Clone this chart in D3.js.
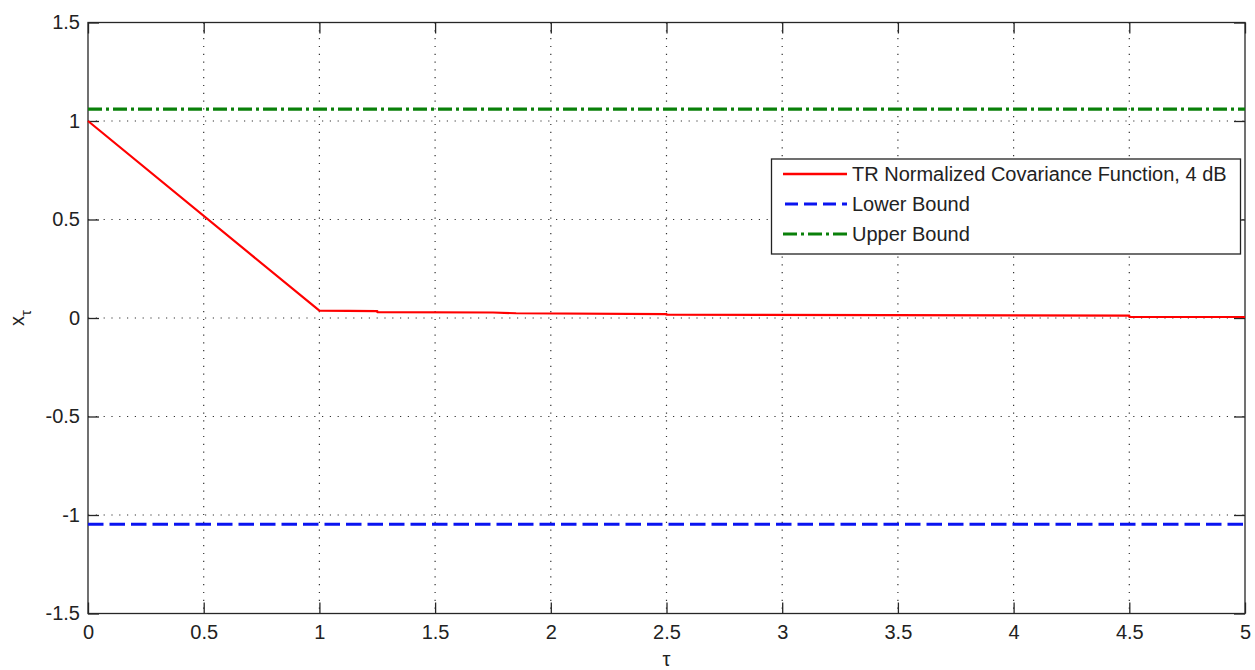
<!DOCTYPE html>
<html><head><meta charset="utf-8">
<script src="https://cdn.jsdelivr.net/npm/d3@7"></script>
<style>
body{margin:0;background:#fff;}
svg{display:block;font-family:"Liberation Sans",Arial,sans-serif;}
</style></head>
<body>
<svg id="chart" width="1255" height="670"></svg>
<script>
// Data
const covTau = [0, 1, 1.25, 1.25, 1.75, 1.85, 2.5, 2.5, 4.5, 4.5, 5];
const covVal = [1, 0.037, 0.035, 0.03, 0.028, 0.024, 0.02, 0.017, 0.012, 0.005, 0.005];
const lowerBound = -1.047;
const upperBound = 1.06;
const xTicks = [0, 0.5, 1, 1.5, 2, 2.5, 3, 3.5, 4, 4.5, 5];
const yTicks = [-1.5, -1, -0.5, 0, 0.5, 1, 1.5];
const legendLabels = ["TR Normalized Covariance Function, 4 dB", "Lower Bound", "Upper Bound"];

const svg = d3.select("#chart");
const L = 88, R = 1245, T = 22.5, B = 613.5;
const x = d3.scaleLinear().domain([0, 5]).range([L, R]);
const y = d3.scaleLinear().domain([-1.5, 1.5]).range([B, T]);
const axisColor = "#262626";
const fmt = d => String(d);

// grid
const grid = svg.append("g");
xTicks.slice(1, -1).forEach(t => {
  grid.append("line").attr("x1", x(t)).attr("x2", x(t)).attr("y1", T).attr("y2", B)
    .attr("stroke", "#333").attr("stroke-width", 1.2).attr("stroke-dasharray", "1.2,6.6");
});
yTicks.slice(1, -1).forEach(t => {
  grid.append("line").attr("x1", L).attr("x2", R).attr("y1", y(t)).attr("y2", y(t))
    .attr("stroke", "#333").attr("stroke-width", 1.2).attr("stroke-dasharray", "1.2,6.6");
});

// axes with inward ticks
const tickLen = 11;
const xAxis = d3.axisBottom(x).tickValues(xTicks).tickSize(-tickLen).tickPadding(11).tickFormat(fmt);
const yAxis = d3.axisLeft(y).tickValues(yTicks).tickSize(-tickLen).tickPadding(8).tickFormat(fmt);
const xTop = d3.axisTop(x).tickValues(xTicks).tickSize(-tickLen).tickFormat("");
const yRight = d3.axisRight(y).tickValues(yTicks).tickSize(-tickLen).tickFormat("");

function style(g) {
  g.selectAll("line").attr("stroke", axisColor).attr("stroke-width", 1.3);
  g.selectAll("text").attr("fill", "#222").style("font-size", "20px").style("font-family", "Liberation Sans, Arial, sans-serif");
}
svg.append("g").attr("transform", `translate(0,${B})`).call(xAxis).call(g => g.select(".domain").remove()).call(style);
svg.append("g").attr("transform", `translate(${L},0)`).call(yAxis).call(g => g.select(".domain").remove()).call(style);
svg.append("g").attr("transform", `translate(0,${T})`).call(xTop).call(g => g.select(".domain").remove()).call(style);
svg.append("g").attr("transform", `translate(${R},0)`).call(yRight).call(g => g.select(".domain").remove()).call(style);
svg.append("rect").attr("x", L).attr("y", T).attr("width", R - L).attr("height", B - T)
  .attr("fill", "none").attr("stroke", axisColor).attr("stroke-width", 1.3);

// series
const line = d3.line().x(d => x(d[0])).y(d => y(d[1]));
const covData = covTau.map((t, i) => [t, covVal[i]]);
svg.append("path").datum([[0, upperBound], [5, upperBound]]).attr("d", line)
  .attr("fill", "none").attr("stroke", "#0a800a").attr("stroke-width", 3.2).attr("stroke-dasharray", "14,4,3,4");
svg.append("path").datum([[0, lowerBound], [5, lowerBound]]).attr("d", line)
  .attr("fill", "none").attr("stroke", "#0a14f0").attr("stroke-width", 3.2).attr("stroke-dasharray", "15.5,6");
svg.append("path").datum(covData).attr("d", line)
  .attr("fill", "none").attr("stroke", "#ff0000").attr("stroke-width", 2.2).attr("stroke-linejoin", "round");

// legend
const lg = svg.append("g");
lg.append("rect").attr("x", 771.5).attr("y", 159).attr("width", 469).attr("height", 95)
  .attr("fill", "#fff").attr("stroke", "#222").attr("stroke-width", 1.3);
const rows = [174, 204, 234];
const legStyles = [
  {c: "#ff0000", w: 2.6, d: null},
  {c: "#0a14f0", w: 3, d: "13,6"},
  {c: "#0a800a", w: 3, d: "14,4,3,4"}
];
legendLabels.forEach((lab, i) => {
  const ln = lg.append("line").attr("x1", 783).attr("x2", 847).attr("y1", rows[i]).attr("y2", rows[i])
    .attr("stroke", legStyles[i].c).attr("stroke-width", legStyles[i].w);
  if (legStyles[i].d) ln.attr("stroke-dasharray", legStyles[i].d).attr("stroke-dashoffset", i === 1 ? -2 : 0);
  lg.append("text").attr("x", 852).attr("y", rows[i]).attr("dy", "0.35em")
    .style("font-size", "20px").attr("fill", "#222").text(lab);
});

// axis labels
svg.append("text").attr("x", x(2.5)).attr("y", 666).attr("text-anchor", "middle")
  .style("font-size", "20px").attr("fill", "#222").text("τ");
const yl = svg.append("text").attr("transform", "translate(24,318) rotate(-90)").attr("text-anchor", "middle")
  .style("font-size", "20px").attr("fill", "#222");
yl.append("tspan").text("x");
yl.append("tspan").attr("dy", 7).style("font-size", "15px").text("τ");
</script>
</body></html>
